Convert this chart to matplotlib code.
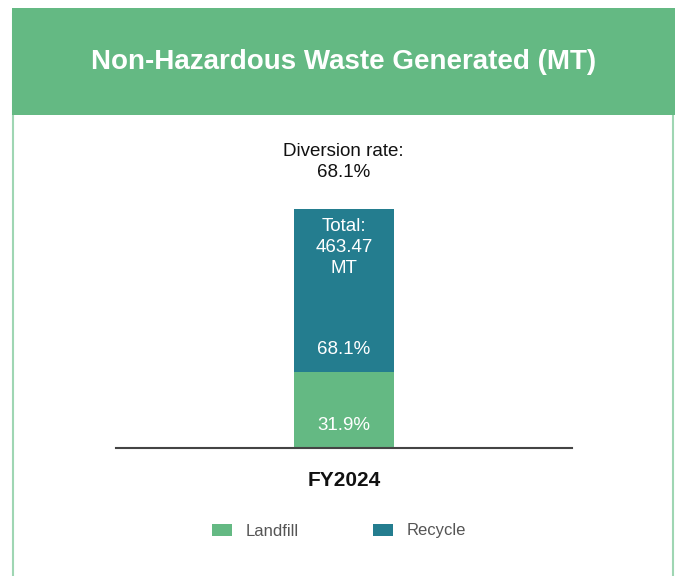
import matplotlib.pyplot as plt
from matplotlib.patches import Rectangle, Patch

plt.rcParams['font.family'] = ['Liberation Sans', 'DejaVu Sans']

categories = ['FY2024']
landfill = [147.85]
recycle = [315.62]
total = [463.47]
landfill_pct = ['31.9%']
recycle_pct = ['68.1%']
diversion = '68.1%'

GREEN = '#64b983'
TEAL = '#247d8f'
W, H = 680, 576

fig = plt.figure(figsize=(W / 100, H / 100), dpi=100)

# panel border and header band
fig.patches.append(Rectangle((13 / W, -0.01), 660 / W, 1 - 8 / H, transform=fig.transFigure,
                             facecolor='white', edgecolor='#9fd6b3', linewidth=1.5, zorder=0))
fig.patches.append(Rectangle((12 / W, 1 - 115 / H), 663 / W, 107 / H, transform=fig.transFigure,
                             facecolor=GREEN, edgecolor='none', zorder=1))
fig.text(343.5 / W, 1 - 62 / H, 'Non-Hazardous Waste Generated (MT)', color='white',
         fontsize=20, fontweight='bold', ha='center', va='center')

fig.text(343.5 / W, 1 - 162 / H, 'Diversion rate:\n' + diversion, fontsize=13.5,
         ha='center', va='center', color='#111111', linespacing=1.35)

ax = fig.add_axes([116 / W, 1 - 448 / H, 456 / W, 308 / H])
ax.set_zorder(3)
ax.set_facecolor('none')
x = list(range(len(categories)))
ax.bar(x, landfill, width=1.0, color=GREEN, label='Landfill')
ax.bar(x, recycle, width=1.0, bottom=landfill, color=TEAL, label='Recycle')
ax.set_xlim(-2.3, 2.3)
ax.set_ylim(0, 597)

for i in x:
    ax.annotate(landfill_pct[i], (i, 0), xytext=(0, 16.5), textcoords='offset points',
                ha='center', va='center', color='white', fontsize=13.5)
    ax.annotate(recycle_pct[i], (i, landfill[i]), xytext=(0, 16), textcoords='offset points',
                ha='center', va='center', color='white', fontsize=13.5)
    ax.annotate('Total:\n%.2f\nMT' % total[i], (i, total[i]), xytext=(0, -6.5),
                textcoords='offset points', ha='center', va='top', color='white',
                fontsize=13.5, linespacing=1.32)

for s in ['top', 'right', 'left']:
    ax.spines[s].set_visible(False)
ax.spines['bottom'].set_color('#444444')
ax.spines['bottom'].set_linewidth(1.5)
ax.set_yticks([])
ax.set_xticks(x)
ax.set_xticklabels(categories, fontsize=15, fontweight='bold', color='#111111')
ax.tick_params(axis='x', length=0, pad=16.5)

handles = [Patch(facecolor=GREEN, label='Landfill'), Patch(facecolor=TEAL, label='Recycle')]
leg = fig.legend(handles=handles, loc='center', bbox_to_anchor=(339 / W, 1 - 531 / H), ncol=2,
                 frameon=False, fontsize=12, handlelength=1.2, handleheight=0.7,
                 handletextpad=0.8, columnspacing=4.5)
leg.set_zorder(4)
for t in leg.get_texts():
    t.set_color('#555555')

fig.savefig('out.png', dpi=100)
